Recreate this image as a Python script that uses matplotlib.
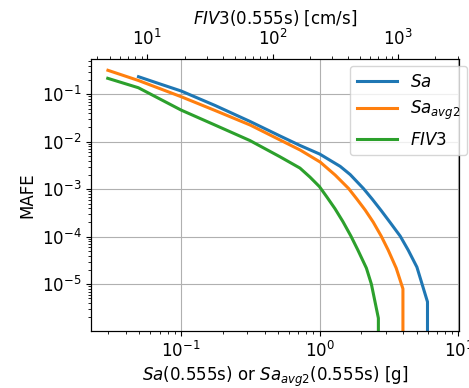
import matplotlib
matplotlib.use("Agg")
import matplotlib.pyplot as plt

# Sa curve (bottom axis, g)
sa_x = [0.04938, 0.07079, 0.1003, 0.1764, 0.3153, 0.5190, 0.7235, 1.0, 1.405, 1.659, 2.069,
        2.390, 2.776, 3.224, 3.805, 4.346, 5.022, 5.986, 5.986]
sa_y = [0.2350, 0.1649, 0.1174, 0.05805, 0.02671, 0.01320, 0.008326, 0.005512, 0.003034,
        0.002037, 0.001032, 6.203e-4, 3.549e-4, 1.982e-4, 1.029e-4, 5.215e-5, 2.285e-5,
        4.239e-6, 1e-7]

# Sa_avg2 curve (bottom axis, g)
saavg_x = [0.02972, 0.04938, 0.1003, 0.1764, 0.3153, 0.5190, 0.7235, 1.008, 1.293, 1.613,
           1.854, 2.128, 2.431, 2.776, 3.118, 3.561, 3.982, 3.982]
saavg_y = [0.3207, 0.1954, 0.08900, 0.04553, 0.02253, 0.01087, 0.006694, 0.003737, 0.001988,
           0.001042, 6.203e-4, 3.636e-4, 2.030e-4, 1.029e-4, 5.215e-5, 2.177e-5, 7.975e-6, 1e-7]

# FIV3 curve (top axis, cm/s)
fiv_x = [4.83, 8.48, 18.58, 34.7, 66.0, 114.6, 165.5, 198.9, 236.7, 271.8, 314.8, 364.7,
         422.6, 480.4, 561.7, 615.6, 700.1, 700.1]
fiv_y = [0.2175, 0.1377, 0.04667, 0.02253, 0.01061, 0.004834, 0.002793, 0.001805, 0.001138,
         6.837e-4, 3.911e-4, 2.080e-4, 1.029e-4, 5.215e-5, 2.177e-5, 1.001e-5, 1.921e-6, 1e-7]

fig = plt.figure(figsize=(4.69, 3.88), dpi=100)
ax = fig.add_axes([91/469, 57/388, (459-91)/469, (331-59)/388])
ax2 = ax.twiny()

lw = 2.2
l1, = ax.plot(sa_x, sa_y, color="#1f77b4", lw=lw, label="$Sa$", solid_joinstyle="round")
l2, = ax.plot(saavg_x, saavg_y, color="#ff7f0e", lw=lw, label="$Sa_{avg2}$", solid_joinstyle="round")
l3, = ax2.plot(fiv_x, fiv_y, color="#2ca02c", lw=lw, label="$FIV3$", solid_joinstyle="round")

ax.set_xscale("log")
ax.set_yscale("log")
ax2.set_xscale("log")
ax.set_xlim(0.02244, 10.1)
ax.set_ylim(1.03e-6, 0.555)
ax2.set_xlim(3.55, 3083)

ax.grid(True, which="major", color="#b0b0b0", lw=0.8)
for a in (ax, ax2):
    a.tick_params(labelsize=12)

ax.set_xlabel("$Sa$(0.555s) or $Sa_{avg2}$(0.555s) [g]", fontsize=12, labelpad=3)
ax.set_ylabel("MAFE", fontsize=12)
ax2.set_xlabel("$FIV3$(0.555s) [cm/s]", fontsize=12)

ax2.legend(handles=[l1, l2, l3], fontsize=12, loc="upper right",
           bbox_to_anchor=(467/469, (388-66)/388), bbox_transform=fig.transFigure,
           borderaxespad=0, handlelength=2.4)

fig.savefig("out.png", dpi=100)
